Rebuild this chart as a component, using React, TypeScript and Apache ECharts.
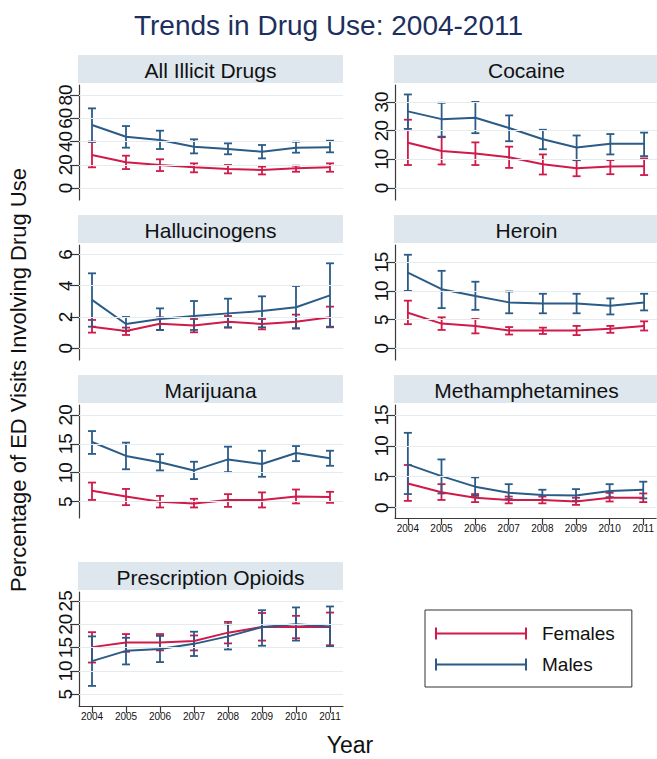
import React, { useEffect, useRef } from "react";
import * as echarts from "echarts";

const years = [2004, 2005, 2006, 2007, 2008, 2009, 2010, 2011];
const panelTitles = [
  "All Illicit Drugs",
  "Cocaine",
  "Hallucinogens",
  "Heroin",
  "Marijuana",
  "Methamphetamines",
  "Prescription Opioids",
];

// All Illicit Drugs
const illicitM = [54.2, 44.1, 41.3, 35.5, 33.5, 31.2, 34.7, 35.0];
const illicitMLo = [39.8, 34.7, 33.5, 29.8, 29.0, 25.5, 30.4, 30.7];
const illicitMHi = [68.5, 53.3, 49.3, 41.9, 38.4, 37.0, 39.8, 40.7];
const illicitF = [28.4, 22.1, 19.8, 17.8, 16.3, 15.5, 16.9, 17.8];
const illicitFLo = [17.8, 16.3, 14.6, 13.5, 12.6, 11.7, 14.0, 14.0];
const illicitFHi = [39.8, 27.8, 24.7, 21.2, 19.8, 18.4, 19.2, 21.2];
// Cocaine
const cocaineM = [26.7, 24.0, 24.5, 20.9, 17.0, 14.1, 15.4, 15.4];
const cocaineMLo = [20.6, 17.9, 19.1, 16.3, 13.5, 9.7, 11.7, 11.1];
const cocaineMHi = [32.6, 29.7, 30.0, 25.3, 20.3, 18.3, 18.8, 19.3];
const cocaineF = [15.8, 12.9, 12.0, 10.7, 8.3, 6.9, 7.5, 7.6];
const cocaineFLo = [8.0, 8.2, 8.0, 7.0, 4.7, 4.1, 4.8, 4.5];
const cocaineFHi = [23.8, 17.7, 15.9, 14.4, 11.7, 9.7, 9.7, 10.3];
// Hallucinogens
const hallucM = [3.09, 1.55, 1.87, 2.06, 2.23, 2.38, 2.62, 3.38];
const hallucMLo = [1.38, 1.1, 1.17, 1.17, 1.34, 1.34, 1.26, 1.38];
const hallucMHi = [4.79, 2.0, 2.55, 3.02, 3.17, 3.32, 3.98, 5.43];
const hallucF = [1.38, 1.1, 1.57, 1.45, 1.7, 1.55, 1.7, 1.98];
const hallucFLo = [1.0, 0.85, 1.17, 1.02, 1.32, 1.21, 1.28, 1.34];
const hallucFHi = [1.81, 1.32, 1.98, 1.87, 2.06, 1.87, 2.15, 2.66];
// Heroin
const heroinM = [13.2, 10.3, 9.1, 8.0, 7.8, 7.8, 7.4, 8.0];
const heroinMLo = [10.0, 7.0, 6.7, 6.1, 6.1, 6.1, 5.9, 6.6];
const heroinMHi = [16.3, 13.5, 11.6, 9.9, 9.5, 9.5, 8.7, 9.5];
const heroinF = [6.2, 4.3, 3.9, 3.1, 3.1, 3.1, 3.4, 3.9];
const heroinFLo = [4.2, 3.2, 2.6, 2.4, 2.5, 2.3, 2.7, 3.1];
const heroinFHi = [8.3, 5.4, 5.1, 3.7, 3.6, 3.9, 3.9, 4.7];
// Marijuana
const marijM = [15.3, 12.9, 11.8, 10.4, 12.3, 11.5, 13.4, 12.5];
const marijMLo = [13.25, 10.6, 10.4, 8.9, 10.1, 9.3, 12.0, 11.2];
const marijMHi = [17.2, 15.2, 13.2, 11.9, 14.5, 13.8, 14.6, 13.8];
const marijF = [6.9, 5.9, 5.0, 4.7, 5.3, 5.3, 5.9, 5.8];
const marijFLo = [5.3, 4.4, 4.0, 4.0, 4.1, 4.0, 4.7, 4.8];
const marijFHi = [8.3, 7.2, 6.0, 5.5, 6.3, 6.6, 7.1, 6.7];
// Methamphetamines
const methM = [7.0, 5.1, 3.4, 2.4, 2.05, 1.95, 2.7, 2.9];
const methMLo = [2.2, 2.3, 1.9, 1.4, 1.25, 1.1, 1.7, 1.5];
const methMHi = [12.1, 7.8, 4.9, 3.8, 2.9, 3.0, 3.8, 4.2];
const methF = [3.9, 2.5, 1.6, 1.25, 1.25, 1.0, 1.6, 1.6];
const methFLo = [1.1, 1.25, 0.9, 0.7, 0.7, 0.45, 1.0, 0.9];
const methFHi = [6.9, 3.8, 2.2, 1.8, 1.8, 1.6, 2.4, 2.3];
// Prescription Opioids
const opioidM = [12.1, 14.3, 14.7, 15.8, 17.4, 19.4, 20.0, 19.5];
const opioidMLo = [6.8, 11.4, 11.9, 13.2, 14.6, 15.4, 16.5, 15.2];
const opioidMHi = [17.4, 17.1, 17.5, 18.4, 20.0, 23.0, 23.6, 23.8];
const opioidF = [15.1, 16.1, 16.1, 16.4, 18.2, 19.4, 19.4, 19.4];
const opioidFLo = [11.8, 14.1, 14.4, 14.4, 15.9, 16.5, 17.0, 15.5];
const opioidFHi = [18.3, 17.9, 17.9, 17.6, 20.5, 22.4, 21.8, 22.5];

const yTicks = [
  [0, 20, 40, 60, 80],
  [0, 10, 20, 30],
  [0, 2, 4, 6],
  [0, 5, 10, 15],
  [5, 10, 15, 20],
  [0, 5, 10, 15],
  [5, 10, 15, 20, 25],
];
const yMin = [-10.3, -4.19, -0.75, -2.04, 2.18, -1.67, 2.5];
const yMax = [88.6, 35.9, 6.6, 18.0, 21.7, 16.6, 26.9];

const femaleMid = [illicitF, cocaineF, hallucF, heroinF, marijF, methF, opioidF];
const femaleLo = [illicitFLo, cocaineFLo, hallucFLo, heroinFLo, marijFLo, methFLo, opioidFLo];
const femaleHi = [illicitFHi, cocaineFHi, hallucFHi, heroinFHi, marijFHi, methFHi, opioidFHi];
const maleMid = [illicitM, cocaineM, hallucM, heroinM, marijM, methM, opioidM];
const maleLo = [illicitMLo, cocaineMLo, hallucMLo, heroinMLo, marijMLo, methMLo, opioidMLo];
const maleHi = [illicitMHi, cocaineMHi, hallucMHi, heroinMHi, marijMHi, methMHi, opioidMHi];

const RED = "#cf1a4a";
const BLUE = "#2b5b87";
const FONT = "'Liberation Sans', Arial, Helvetica, sans-serif";
const AXIS_COLOR = "#3a3a3a";
const GRID_COLOR = "#e4ecf0";
const HEADER_BG = "#dde7ed";

const colLeft = [79, 395];
const plotWidth = 264;
const rowTop = [85, 245, 405, 592];
const rowHeight = [115, 115, 113, 114];
const headerTop = [55, 215, 375, 562];
const headerHeight = 28;

const LEGEND_ICON = "path://M0,0h2v12h-2zM0,5h92v2h-92zM90,0h2v12h-2z";

function makeErrRender(color: string) {
  return (params: any, api: any) => {
    const x = api.value(0);
    const lo = api.coord([x, api.value(1)]);
    const hi = api.coord([x, api.value(2)]);
    const w = 4;
    const style = { stroke: color, lineWidth: 1.8 };
    return {
      type: "group",
      children: [
        { type: "line", shape: { x1: lo[0], y1: lo[1], x2: hi[0], y2: hi[1] }, style },
        { type: "line", shape: { x1: lo[0] - w, y1: lo[1], x2: lo[0] + w, y2: lo[1] }, style },
        { type: "line", shape: { x1: hi[0] - w, y1: hi[1], x2: hi[0] + w, y2: hi[1] }, style },
      ],
    };
  };
}

export default function App() {
  const ref = useRef<HTMLDivElement>(null);

  useEffect(() => {
    document.body.style.margin = "0";
    if (!ref.current) return;
    const chart = echarts.init(ref.current, undefined, { renderer: "svg" });

    const grids: any[] = [];
    const xAxes: any[] = [];
    const yAxes: any[] = [];
    const series: any[] = [];
    const graphics: any[] = [];

    panelTitles.forEach((title, i) => {
      const col = i % 2;
      const row = Math.floor(i / 2);
      grids.push({
        left: colLeft[col],
        top: rowTop[row],
        width: plotWidth,
        height: rowHeight[row],
        containLabel: false,
      });
      const showX = i === 5 || i === 6;
      xAxes.push({
        type: "value",
        gridIndex: i,
        min: 2004 - 13 / 34,
        max: 2011 + 13 / 34,
        splitLine: { show: false },
        axisLine: { show: showX, onZero: false, lineStyle: { color: AXIS_COLOR, width: 1.2 } },
        axisTick: {
          show: showX,
          length: 7,
          customValues: years,
          lineStyle: { color: AXIS_COLOR, width: 1.2 },
        },
        axisLabel: {
          show: showX,
          customValues: years,
          formatter: (v: number) => String(v),
          fontSize: 10,
          fontFamily: FONT,
          color: "#111",
          margin: 5,
        },
      });
      yAxes.push({
        type: "value",
        gridIndex: i,
        min: yMin[i],
        max: yMax[i],
        splitLine: { show: false },
        axisLine: { show: true, onZero: false, lineStyle: { color: AXIS_COLOR, width: 1.2 } },
        axisTick: {
          show: true,
          length: 9,
          customValues: yTicks[i],
          lineStyle: { color: AXIS_COLOR, width: 1.2 },
        },
        axisLabel: {
          show: true,
          customValues: yTicks[i],
          rotate: 90,
          hideOverlap: false,
          fontSize: 19,
          fontFamily: FONT,
          color: "#111",
          margin: 4,
        },
      });

      // gridlines
      series.push({
        type: "line",
        xAxisIndex: i,
        yAxisIndex: i,
        data: [],
        silent: true,
        z: 1,
        markLine: {
          silent: true,
          symbol: ["none", "none"],
          label: { show: false },
          lineStyle: { color: GRID_COLOR, width: 1.2, type: "solid" },
          data: yTicks[i].map((v) => ({ yAxis: v })),
        },
      });

      const mk = (mid: number[], lo: number[], hi: number[], name: string, color: string) => {
        series.push({
          type: "custom",
          name,
          xAxisIndex: i,
          yAxisIndex: i,
          z: 2,
          itemStyle: { color },
          renderItem: makeErrRender(color),
          encode: { x: 0, y: [1, 2] },
          data: years.map((y, k) => [y, lo[k], hi[k]]),
        });
      };
      mk(femaleMid[i], femaleLo[i], femaleHi[i], "Females", RED);
      mk(maleMid[i], maleLo[i], maleHi[i], "Males", BLUE);

      const ln = (mid: number[], name: string, color: string) => {
        series.push({
          type: "line",
          name,
          xAxisIndex: i,
          yAxisIndex: i,
          z: 3,
          symbol: "none",
          lineStyle: { color, width: 2 },
          itemStyle: { color },
          data: years.map((y, k) => [y, mid[k]]),
        });
      };
      ln(femaleMid[i], "Females", RED);
      ln(maleMid[i], "Males", BLUE);

      // header strip
      graphics.push({
        type: "rect",
        shape: { x: colLeft[col] - 1, y: headerTop[row], width: 265, height: headerHeight },
        style: { fill: HEADER_BG },
        silent: true,
      });
      graphics.push({
        type: "text",
        x: colLeft[col] - 1 + 132.5,
        y: headerTop[row] + headerHeight / 2 + 1,
        style: {
          text: title,
          font: `21px ${FONT}`,
          fill: "#111",
          textAlign: "center",
          textVerticalAlign: "middle",
        },
        silent: true,
      });
    });

    graphics.push({
      type: "text",
      x: 18,
      y: 380,
      rotation: Math.PI / 2,
      style: {
        text: "Percentage of ED Visits Involving Drug Use",
        font: `22px ${FONT}`,
        fill: "#111",
        textAlign: "center",
        textVerticalAlign: "middle",
      },
      silent: true,
    });
    graphics.push({
      type: "text",
      x: 350,
      y: 745,
      style: {
        text: "Year",
        font: `23px ${FONT}`,
        fill: "#111",
        textAlign: "center",
        textVerticalAlign: "middle",
      },
      silent: true,
    });

    chart.setOption({
      animation: false,
      backgroundColor: "#ffffff",
      title: {
        text: "Trends in Drug Use: 2004-2011",
        left: "center",
        top: 6,
        textStyle: { fontSize: 28, fontWeight: "normal", color: "#1c2f5e", fontFamily: FONT },
      },
      legend: {
        data: [
          { name: "Females", icon: LEGEND_ICON, itemStyle: { color: RED } },
          { name: "Males", icon: LEGEND_ICON, itemStyle: { color: BLUE } },
        ],
        orient: "vertical",
        left: 425,
        top: 610,
        itemWidth: 92,
        itemHeight: 12,
        itemGap: 12,
        padding: [14, 17, 13, 10],
        borderColor: "#333",
        borderWidth: 1,
        selectedMode: false,
        textStyle: { fontSize: 19, color: "#111", fontFamily: FONT, padding: [0, 0, 0, 10] },
      },
      grid: grids,
      xAxis: xAxes,
      yAxis: yAxes,
      series,
      graphic: graphics,
    });

    return () => {
      chart.dispose();
    };
  }, []);

  return <div ref={ref} style={{ width: 657, height: 759 }} />;
}
